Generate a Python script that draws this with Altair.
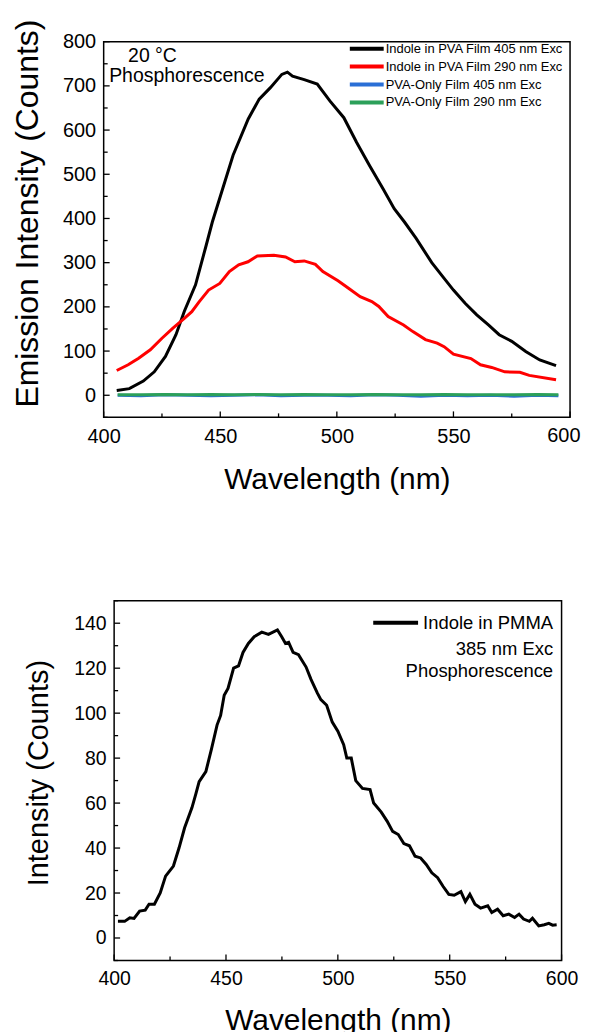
import altair as alt
import pandas as pd

FONT = "Liberation Sans"

# ---------------- top panel data ----------------
series_top = ["Indole in PVA Film 405 nm Exc", "Indole in PVA Film 290 nm Exc",
              "PVA-Only Film 405 nm Exc", "PVA-Only Film 290 nm Exc"]
colors_top = ["#000000", "#ff0000", "#2a6fd6", "#2ca05a"]

black_wl = [405.6, 411, 417, 421.7, 426.5, 431, 434.6, 439.4, 444, 446.6, 450.6, 455.5, 462,
            466.7, 471.5, 476.4, 478.8, 481, 486, 491.6, 497, 503, 508.5, 514, 519.8, 524.6,
            529, 534, 540.7, 545.5, 550, 555, 560, 565, 569.6, 575, 581, 587, 594]
black_val = [11, 15, 32, 53, 88, 137, 190, 250, 340, 392, 460, 543, 625, 670, 696, 726, 731,
             722, 714, 704, 666, 628, 572, 520, 467, 422, 392, 355, 300, 268, 238, 208, 182,
             159, 137, 122, 99, 80, 67]

red_wl = [405.6, 410.5, 415, 420, 425, 429.7, 434.6, 437.8, 441, 445, 449.8, 453.9, 457.9,
          461.9, 465.9, 473, 478, 482, 486, 490.8, 494, 500.5, 505, 510, 515, 518, 522,
          528.6, 532.6, 538, 543, 546, 550, 557.5, 561.6, 566.4, 572, 578.5, 582.5, 594]
red_val = [56, 69, 84, 103, 129, 152, 174, 189, 212, 238, 253, 280, 295, 302, 315, 317, 313,
           302, 304, 296, 280, 259, 242, 223, 212, 201, 178, 159, 144, 126, 118, 110, 93, 83,
           69, 63, 53, 52, 45, 35]

flat_wl = [406, 416, 426, 436, 446, 456, 466, 476, 486, 496, 506, 516, 526, 536, 546, 556,
           566, 576, 586, 595]
blue_val = [0, -1, 1, 0, -1, 0, 1, -1, 0, 0, -1, 1, 0, -2, 0, -1, 0, -2, 0, -1]
green_val = [1, 1, 2, 1, 2, 1, 2, 1, 2, 1, 1, 2, 1, 1, 2, 1, 1, 1, 2, 1]

top_x_major = [400, 450, 500, 550, 600]
top_x_minor = [425, 475, 525, 575]
top_y_major = [0, 100, 200, 300, 400, 500, 600, 700, 800]
top_y_minor = [-50, 50, 150, 250, 350, 450, 550, 650, 750]
top_x_last = [600]

# ---------------- bottom panel data ----------------
pmma_wl = [401.7, 404.7, 407, 408.9, 411.4, 413.9, 415.6, 418, 420.6, 423, 426.5, 429, 431.5,
           434.8, 436.5, 438, 441, 443.5, 446, 447.6, 449.2, 450.9, 453.4, 455.6, 457.6, 460,
           462.6, 466, 469, 473, 474.9, 476.6, 478, 480, 482.4, 485.8, 488, 490.8, 492.4, 495,
           497.5, 500, 502.6, 504, 506, 508, 511, 514.4, 516, 519.4, 522, 524.5, 527, 529.5,
           532, 534.5, 537, 539.5, 542, 544.6, 547, 549.6, 552, 555, 557, 559, 561.3, 563.8,
           567, 568.8, 571.4, 573.9, 576.4, 579, 581, 583, 585.6, 587, 589.8, 592.3, 594.3,
           596, 597.8]
pmma_val = [7.4, 7.4, 9, 8.7, 12, 12.4, 15, 15, 20, 27.5, 32, 40, 49, 58, 64, 69.5, 74, 84,
            94.7, 99, 108, 111, 120, 121, 127, 131, 134, 136, 135, 137, 134, 131, 131.5, 127,
            126, 120.5, 115, 109, 106, 103.5, 96, 92, 86, 80, 80, 70, 66.5, 66, 60, 56, 52,
            47.4, 46, 42, 41, 36.4, 35.6, 32.7, 29, 26.8, 23, 19.4, 19, 20.6, 16.2, 19.4, 15,
            13.3, 14.3, 11.3, 12.8, 9.9, 10.6, 9.1, 10.6, 8.4, 7.4, 8.8, 5.4, 5.9, 6.5, 5.7,
            5.9]
series_bot = ["Indole in PMMA"]

bot_x_major = [400, 450, 500, 550, 600]
bot_x_minor = [425, 475, 525, 575]
bot_y_major = [0, 20, 40, 60, 80, 100, 120, 140]
bot_y_minor = [-10, 10, 30, 50, 70, 90, 110, 130, 150]

W1, H1 = 468, 377          # top plot area
W2, H2 = 449, 361          # bottom plot area
SH = 10.5                  # bottom plot sits this much right of the top plot
VW2 = SH + W2              # bottom view width

rows = []
for wl, v in zip(black_wl, black_val):
    rows.append((wl, v, series_top[0], 1))
for wl, v in zip(red_wl, red_val):
    rows.append((wl, v, series_top[1], 0))
for wl, v in zip(flat_wl, blue_val):
    rows.append((wl, v, series_top[2], 2))
for wl, v in zip(flat_wl, green_val):
    rows.append((wl, v, series_top[3], 3))
df_top = pd.DataFrame(rows, columns=["wl", "value", "series", "z"])
df_bot = pd.DataFrame({"wl": pmma_wl, "value": pmma_val, "series": series_bot * len(pmma_wl)})


def axes(xticks, yticks, ytitle, tfs, lfs, ytitle_x, ytitle_y, xtitle_x, xtitle_y, yoff,
         xlabel_expr="datum.label"):
    xa = alt.Axis(title="Wavelength (nm)", values=xticks, ticks=False, domain=False,
                  grid=False, labelFontSize=lfs, labelPadding=9, labelColor="black",
                  labelFlush=False, labelExpr=xlabel_expr,
                  titleFontSize=30, titleFontWeight="normal", titleColor="black",
                  titleBaseline="alphabetic", titleX=xtitle_x, titleY=xtitle_y,
                  labelFont=FONT, titleFont=FONT)
    ya = alt.Axis(title=ytitle, values=yticks, ticks=False, domain=False, offset=yoff,
                  grid=False, labelFontSize=lfs, labelPadding=8, labelColor="black",
                  labelFlush=False,
                  titleFontSize=tfs, titleFontWeight="normal", titleColor="black",
                  titleAngle=270, titleAlign="center", titleBaseline="alphabetic",
                  titleX=ytitle_x, titleY=ytitle_y, labelFont=FONT, titleFont=FONT)
    return xa, ya


def tick_layers(xs, ys, xa, ya, xmaj, xmin, ymaj, ymin, h, x0):
    layers = []
    for vals, ln in ((xmaj, 6), (xmin, 4)):
        d = pd.DataFrame({"wl": vals})
        layers.append(alt.Chart(d).mark_rule(color="black", strokeWidth=1.3).encode(
            x=alt.X("wl:Q", scale=xs, axis=xa), y=alt.value(h), y2=alt.value(h - ln)))
    for vals, ln in ((ymaj, 6), (ymin, 4)):
        d = pd.DataFrame({"value": vals})
        layers.append(alt.Chart(d).mark_rule(color="black", strokeWidth=1.3).encode(
            y=alt.Y("value:Q", scale=ys, axis=ya), x=alt.value(x0), x2=alt.value(x0 + ln)))
    return layers


def spacer(x, y1, y2):
    return alt.Chart(pd.DataFrame({"s": [0]})).mark_rule(
        color="white", strokeOpacity=0, strokeWidth=1).encode(
        x=alt.value(x), y=alt.value(y1), y2=alt.value(y2))


def label(text, x, y, size, align="left"):
    return alt.Chart(pd.DataFrame({"t": [text]})).mark_text(
        font=FONT, fontSize=size, color="black", align=align, baseline="middle").encode(
        x=alt.value(x), y=alt.value(y), text="t:N")


# ---------------- top chart ----------------
xs1 = alt.Scale(domain=[400, 600], nice=False, zero=False)
ys1 = alt.Scale(domain=[-50, 800], nice=False, zero=False)
xa1, ya1 = axes(top_x_major, top_y_major, "Emission Intensity (Counts)", 32, 20,
                -66.5, 172, W1 / 2, 71, 0,
                xlabel_expr="datum.value == 600 ? '' : datum.label")
lines1 = alt.Chart(df_top).mark_line(strokeWidth=3).encode(
    x=alt.X("wl:Q", scale=xs1, axis=xa1),
    y=alt.Y("value:Q", scale=ys1, axis=ya1),
    color=alt.Color("series:N", scale=alt.Scale(domain=series_top, range=colors_top),
                    legend=alt.Legend(title=None, orient="none", legendX=245, legendY=0.5,
                                      symbolType="stroke", symbolStrokeWidth=4,
                                      symbolSize=1156, clipHeight=13,
                                      labelFontSize=13, labelFont=FONT, labelLimit=400,
                                      labelColor="black", labelOffset=0, rowPadding=4,
                                      padding=0)),
    order=alt.Order("z:Q"),
)
# last x tick label drawn as text so that it stays inside the page width
last_label = alt.Chart(pd.DataFrame({"wl": top_x_last})).mark_text(
    font=FONT, fontSize=20, color="black", align="right", baseline="top", dx=10.5).encode(
    x=alt.X("wl:Q", scale=xs1, axis=xa1), y=alt.value(H1 + 9), text="wl:Q")
top = alt.layer(
    lines1,
    *tick_layers(xs1, ys1, xa1, ya1, top_x_major, top_x_minor, top_y_major, top_y_minor,
                 H1, 0),
    last_label,
    label("20 °C", 24.5, 14, 19.5),
    label("Phosphorescence", 5.5, 34, 19.5),
    spacer(-95, -30.5, H1 + 80),
).properties(width=W1, height=H1)

# ---------------- bottom chart ----------------
xs2 = alt.Scale(domain=[400, 600], nice=False, zero=False, range=[SH, VW2])
ys2 = alt.Scale(domain=[-10, 150], nice=False, zero=False)
xa2, ya2 = axes(bot_x_major, bot_y_major, "Intensity (Counts)", 29, 19.5,
                -67, 172.5, SH + W2 / 2, 69, -SH)
lines2 = alt.Chart(df_bot).mark_line(strokeWidth=3).encode(
    x=alt.X("wl:Q", scale=xs2, axis=xa2),
    y=alt.Y("value:Q", scale=ys2, axis=ya2),
    color=alt.Color("series:N", scale=alt.Scale(domain=series_bot, range=["#000000"]),
                    legend=alt.Legend(title=None, orient="none", legendX=268.5, legendY=12,
                                      symbolType="stroke", symbolStrokeWidth=4,
                                      symbolSize=2025, clipHeight=20,
                                      labelFontSize=18.5, labelFont=FONT, labelLimit=400,
                                      labelColor="black", labelOffset=3, padding=0)),
)
frame2 = alt.Chart(pd.DataFrame({"s": [0]})).mark_rect(
    filled=False, stroke="black", strokeWidth=1.5).encode(
    x=alt.value(SH), x2=alt.value(VW2), y=alt.value(0), y2=alt.value(H2))
bottom = alt.layer(
    frame2,
    lines2,
    *tick_layers(xs2, ys2, xa2, ya2, bot_x_major, bot_x_minor, bot_y_major, bot_y_minor,
                 H2, SH),
    label("385 nm Exc", SH + 440.5, 48, 18.5, align="right"),
    label("Phosphorescence", SH + 440.5, 71, 18.5, align="right"),
    spacer(-95, -10, H2 + 20),
).properties(width=VW2, height=H2, view=alt.ViewBackground(stroke="transparent"))

chart = alt.vconcat(top, bottom, spacing=92).resolve_scale(
    x="independent", y="independent", color="independent"
).properties(padding=0).configure(font=FONT).configure_view(
    stroke="black", strokeWidth=1.5
)

chart.save("out.html", embed_options={"renderer": "svg", "actions": False})
